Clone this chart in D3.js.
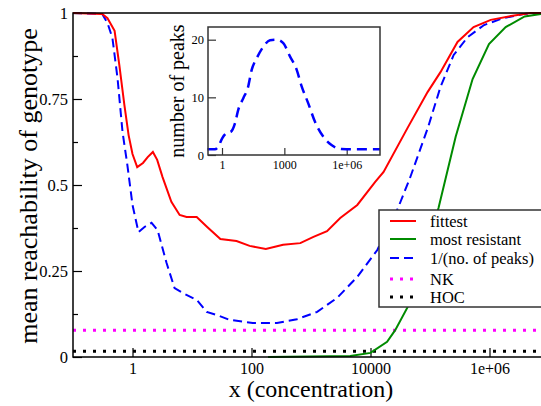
<!DOCTYPE html>
<html><head><meta charset="utf-8">
<script src="https://cdn.jsdelivr.net/npm/d3@7"></script>
<style>
body{margin:0;background:#fff}
svg{display:block}
</style>
</head><body>
<svg id="c" width="541" height="406"></svg>
<script>
// ---- data ----
const xTicks = [1, 100, 10000, 1e6];
const xTickLabels = ["1", "100", "10000", "1e+06"];
const yTicks = [0, 0.25, 0.5, 0.75, 1];
const yTickLabels = ["0", "0.25", "0.5", "0.75", "1"];
const yMinorTicks = [0.125, 0.375, 0.625, 0.875];

const fitX = [0.1, 0.31, 0.38, 0.5, 0.6, 0.73, 0.86, 1, 1.2, 1.5, 1.8, 2.2, 2.6, 3.2, 4.5, 6.2, 8.1, 12, 18, 30, 56, 93, 174, 340, 660, 1100, 1860, 3100, 6000, 12000, 16600, 42000, 91000, 150000, 290000, 540000, 1.05e6, 2.3e6, 4.9e6, 1e7];
const fittest = [1.0, 0.997, 0.985, 0.948, 0.849, 0.733, 0.645, 0.590, 0.552, 0.564, 0.581, 0.596, 0.573, 0.523, 0.451, 0.413, 0.407, 0.407, 0.378, 0.343, 0.337, 0.323, 0.314, 0.326, 0.331, 0.349, 0.366, 0.404, 0.442, 0.509, 0.538, 0.666, 0.770, 0.828, 0.916, 0.959, 0.980, 0.991, 1.0, 1.0];

const resX = [190, 4570, 10000, 19000, 26000, 42000, 139000, 270000, 520000, 980000, 1.87e6, 3.9e6, 7.3e6, 1e7];
const resistant = [0, 0.003, 0.012, 0.044, 0.078, 0.145, 0.433, 0.64, 0.808, 0.91, 0.959, 0.99, 0.997, 1.0];

const peakX = [0.1, 0.31, 0.38, 0.46, 0.56, 0.68, 0.82, 1.0, 1.26, 1.59, 2.09, 2.64, 3.74, 5.1, 7.0, 12, 17.7, 26, 43, 105, 268, 580, 1270, 2750, 6000, 13000, 29000, 46000, 92000, 150000, 250000, 430000, 810000, 1.7e6, 3.7e6, 1e7];
const invPeaks = [1.0, 0.997, 0.971, 0.927, 0.811, 0.654, 0.558, 0.442, 0.363, 0.378, 0.39, 0.369, 0.273, 0.2, 0.186, 0.166, 0.131, 0.122, 0.108, 0.099, 0.099, 0.110, 0.131, 0.172, 0.233, 0.311, 0.433, 0.52, 0.666, 0.785, 0.878, 0.930, 0.965, 0.985, 0.997, 1.0];

const nkLevel = 0.078;
const hocLevel = 0.017;

const insetX = [0.2, 0.46, 0.66, 1.02, 1.66, 2.7, 4.2, 6.0, 10.7, 17.4, 27, 47, 98, 204, 427, 890, 1860, 3900, 6800, 14000, 29500, 74000, 186000, 560000, 1.74e6, 4e7];
const insetPeaks = [1.0, 1.0, 1.45, 2.9, 3.8, 4.05, 5.5, 7.8, 9.9, 11.6, 14.8, 16.8, 18.8, 19.9, 20.0, 19.4, 17.1, 14.8, 11.9, 9.0, 5.8, 3.2, 1.74, 1.04, 1.0, 1.0];
const insetXTicks = [1, 1000, 1e6];
const insetXTickLabels = ["1", "1000", "1e+06"];
const insetYTicks = [0, 10, 20];
const insetYTickLabels = ["0", "10", "20"];

const legendLabels = ["fittest", "most resistant", "1/(no. of peaks)", "NK", "HOC"];

// ---- styles ----
const FONT = "'Liberation Serif', 'Times New Roman', Times, 'DejaVu Serif', serif";
const RED = "#ff0000", GREEN = "#008b00", BLUE = "#0000ff", MAG = "#ff00ff", BLK = "#000000";
const DASH = "9,5", DOT = "3,7";

const svg = d3.select("#c").style("font-family", FONT);
const L = 73, T = 13, R = 549, B = 357;
const x = d3.scaleLog().domain([0.1, 1e7]).range([L, R]);
const y = d3.scaleLinear().domain([0, 1]).range([B, T]);

svg.append("defs").append("clipPath").attr("id", "clip")
  .append("rect").attr("x", L).attr("y", T - 2).attr("width", R - L).attr("height", B - T + 4);

function styleAxis(g, size, col) {
  g.attr("font-family", null).attr("font-size", null);
  g.select(".domain").remove();
  g.selectAll("text").style("font-family", FONT).style("font-size", size).attr("fill", "#000");
  g.selectAll("line").attr("stroke", col).attr("stroke-width", 1.2);
}

// axes
const xAxis = d3.axisBottom(x).tickValues(xTicks).tickFormat((d, i) => xTickLabels[i])
  .tickSizeInner(-9).tickSizeOuter(0).tickPadding(6);
const gx = svg.append("g").attr("transform", `translate(0,${B})`).call(xAxis);
styleAxis(gx, "16px", BLK);
gx.selectAll("text").attr("dy", "0.7em");

const yAxis = d3.axisLeft(y).tickValues(yTicks).tickFormat((d, i) => yTickLabels[i])
  .tickSizeInner(-9).tickSizeOuter(0).tickPadding(5);
const gy = svg.append("g").attr("transform", `translate(${L},0)`).call(yAxis);
styleAxis(gy, "16.5px", BLK);

const yMinor = d3.axisLeft(y).tickValues(yMinorTicks).tickFormat("").tickSizeInner(-5).tickSizeOuter(0);
const gym = svg.append("g").attr("transform", `translate(${L},0)`).call(yMinor);
styleAxis(gym, "16px", BLK);

// data lines
const plot = svg.append("g").attr("clip-path", "url(#clip)");
const line = d3.line().x(d => x(d[0])).y(d => y(d[1]));

plot.append("line").attr("x1", L).attr("x2", R).attr("y1", y(nkLevel)).attr("y2", y(nkLevel))
  .attr("stroke", MAG).attr("stroke-width", 3).attr("stroke-dasharray", DOT);
plot.append("line").attr("x1", L).attr("x2", R).attr("y1", y(hocLevel)).attr("y2", y(hocLevel))
  .attr("stroke", BLK).attr("stroke-width", 3).attr("stroke-dasharray", DOT);

plot.append("path").datum(d3.zip(peakX, invPeaks)).attr("d", line)
  .attr("fill", "none").attr("stroke", BLUE).attr("stroke-width", 2).attr("stroke-dasharray", DASH);
plot.append("path").datum(d3.zip(resX, resistant)).attr("d", line)
  .attr("fill", "none").attr("stroke", GREEN).attr("stroke-width", 2);
plot.append("path").datum(d3.zip(fitX, fittest)).attr("d", line)
  .attr("fill", "none").attr("stroke", RED).attr("stroke-width", 2);

// frame
svg.append("rect").attr("x", L).attr("y", T).attr("width", R - L).attr("height", B - T)
  .attr("fill", "none").attr("stroke", BLK).attr("stroke-width", 1.5);

// axis titles
svg.append("text").attr("x", 311).attr("y", 397).attr("text-anchor", "middle")
  .style("font-family", FONT).style("font-size", "24px").text("x (concentration)");
svg.append("text").attr("transform", "translate(37,186) rotate(-90)").attr("text-anchor", "middle")
  .style("font-family", FONT).style("font-size", "26px").text("mean reachability of genotype");

// ---- inset ----
const iL = 208, iT = 27, iR = 380, iB = 155;
const ix = d3.scaleLog().domain([0.212, 4e7]).range([iL, iR]);
const iy = d3.scaleLinear().domain([0, 22.2]).range([iB, iT]);
const inset = svg.append("g");
inset.append("rect").attr("x", iL).attr("y", iT).attr("width", iR - iL).attr("height", iB - iT)
  .attr("fill", "#fff");
const ixAxis = d3.axisBottom(ix).tickValues(insetXTicks).tickFormat((d, i) => insetXTickLabels[i])
  .tickSizeInner(-7).tickSizeOuter(0).tickPadding(5);
const gix = inset.append("g").attr("transform", `translate(0,${iB})`).call(ixAxis);
styleAxis(gix, "12px", "#333");
gix.selectAll("text").attr("dy", "0.72em");
const iyAxis = d3.axisLeft(iy).tickValues(insetYTicks).tickFormat((d, i) => insetYTickLabels[i])
  .tickSizeInner(-8).tickSizeOuter(0).tickPadding(4);
const giy = inset.append("g").attr("transform", `translate(${iL},0)`).call(iyAxis);
styleAxis(giy, "12.5px", "#333");

const iline = d3.line().x(d => ix(d[0])).y(d => iy(d[1])).curve(d3.curveMonotoneX);
inset.append("path").datum(d3.zip(insetX, insetPeaks)).attr("d", iline)
  .attr("fill", "none").attr("stroke", BLUE).attr("stroke-width", 2.5).attr("stroke-dasharray", "10,6");
inset.append("rect").attr("x", iL).attr("y", iT).attr("width", iR - iL).attr("height", iB - iT)
  .attr("fill", "none").attr("stroke", "#333").attr("stroke-width", 1.5);
inset.append("text").attr("transform", "translate(184,91) rotate(-90)").attr("text-anchor", "middle")
  .style("font-family", FONT).style("font-size", "20px").text("number of peaks");

// ---- legend ----
const lg = svg.append("g");
lg.append("rect").attr("x", 379).attr("y", 210).attr("width", 175).attr("height", 97)
  .attr("fill", "#fff").attr("stroke", "#333").attr("stroke-width", 1.5);
const legendColors = [RED, GREEN, BLUE, MAG, BLK];
const legendDash = [null, null, DASH, DOT, DOT];
const legendWidth = [2, 2, 2, 3, 3];
const legendY = [221, 239, 258, 279, 297];
legendLabels.forEach((lab, i) => {
  lg.append("line").attr("x1", 390).attr("x2", 416).attr("y1", legendY[i]).attr("y2", legendY[i])
    .attr("stroke", legendColors[i]).attr("stroke-width", legendWidth[i])
    .attr("stroke-dasharray", legendDash[i]);
  lg.append("text").attr("x", 430).attr("y", legendY[i]).attr("dy", "0.35em")
    .style("font-family", FONT).style("font-size", "16.5px").text(lab);
});
</script>
</body></html>
